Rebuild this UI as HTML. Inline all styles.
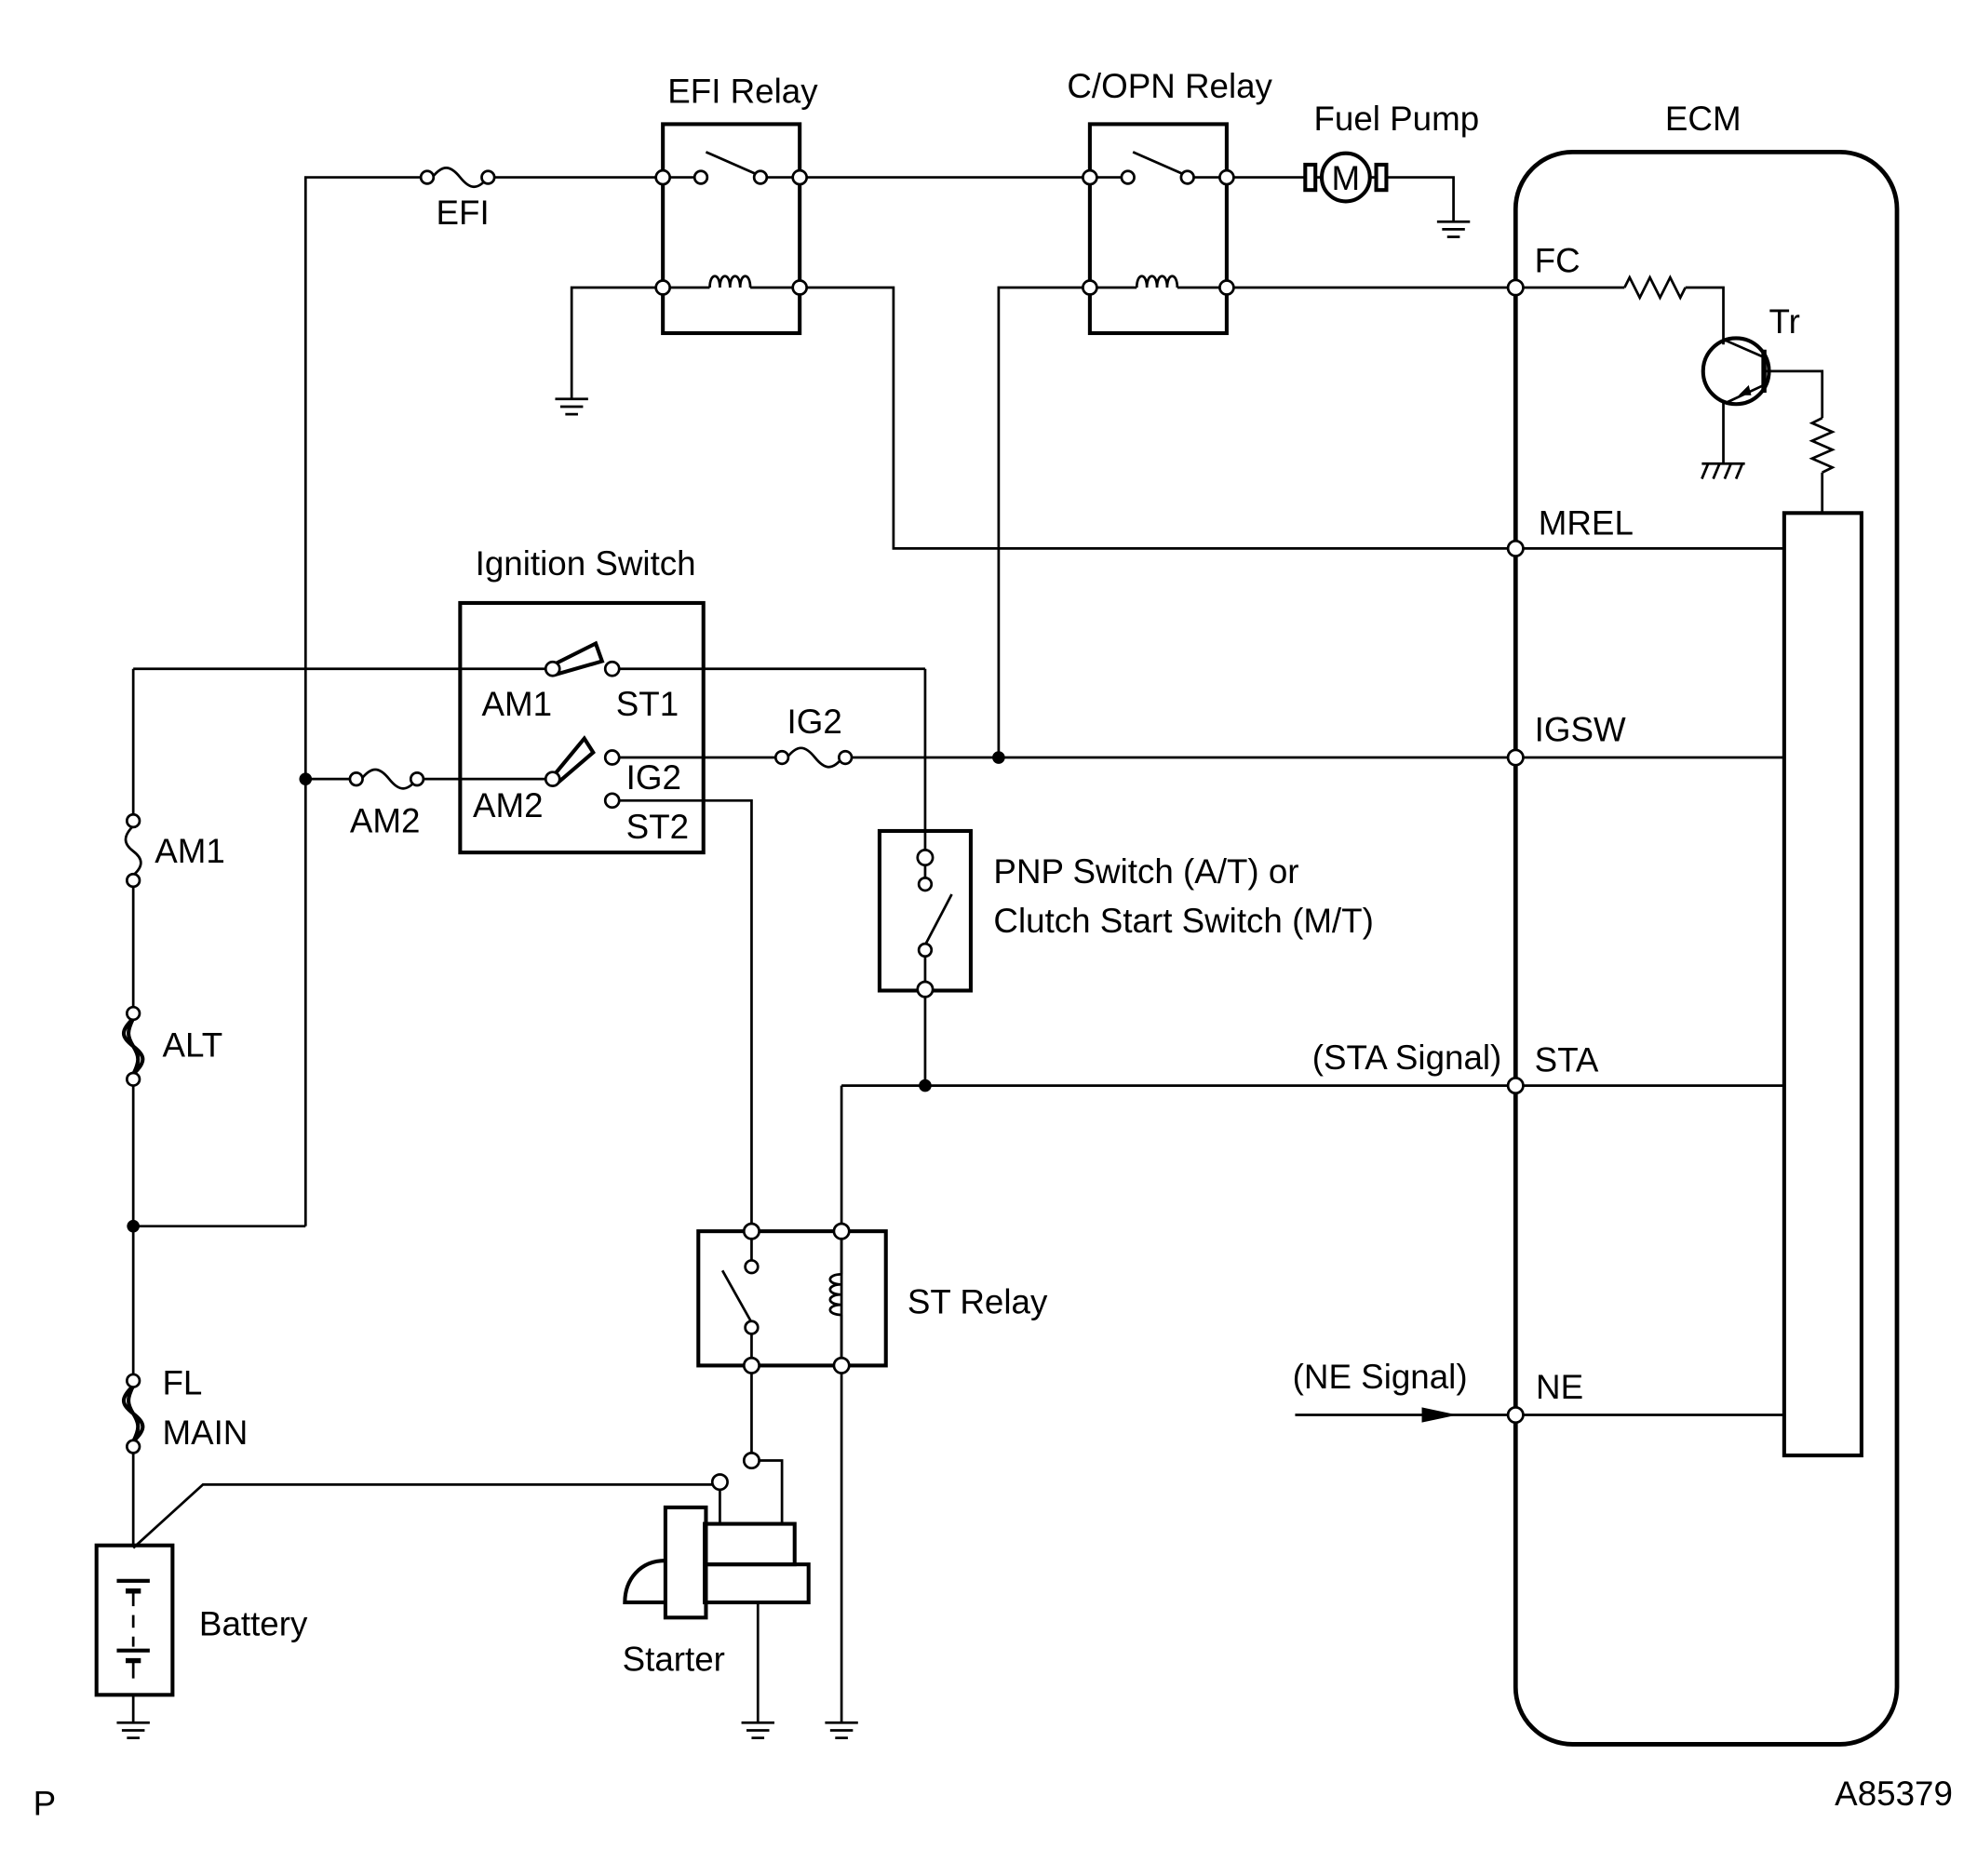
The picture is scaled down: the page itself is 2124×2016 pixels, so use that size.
<!DOCTYPE html>
<html><head><meta charset="utf-8"><style>
html,body{margin:0;padding:0;background:#fff}
svg{display:block}
text{font-family:"Liberation Sans",Arial,sans-serif;font-size:27px;fill:#000}
</style></head><body>
<svg width="2124" height="2016" viewBox="0 0 1560 1481" xmlns="http://www.w3.org/2000/svg">
<defs>
<g id="gnd"><line x1="-13" y1="0" x2="13" y2="0"/><line x1="-9" y1="6" x2="9" y2="6"/><line x1="-5" y1="12" x2="5" y2="12"/></g>
</defs>
<g fill="none" stroke="#000" stroke-width="2">
<polyline points="241,968 241,140 337,140"/>
<path d="M341,140 c8,-10 14,-10 22,0 c8,10 14,10 22,0"/>
<line x1="389" y1="140" x2="523" y2="140"/>
<line x1="105" y1="968" x2="241" y2="968"/>
<rect x="523" y="98" width="108" height="165" stroke-width="3"/>
<line x1="527" y1="140" x2="549" y2="140"/>
<line x1="557" y1="120" x2="598" y2="138"/>
<line x1="604" y1="140" x2="627" y2="140"/>
<line x1="527" y1="227" x2="560" y2="227"/>
<path d="M560,227 c0,-12 8,-12 8,0 c0,-12 8,-12 8,0 c0,-12 8,-12 8,0 c0,-12 8,-12 8,0"/>
<line x1="592" y1="227" x2="627" y2="227"/>
<line x1="635" y1="140" x2="856" y2="140"/>
<rect x="860" y="98" width="108" height="165" stroke-width="3"/>
<line x1="864" y1="140" x2="886" y2="140"/>
<line x1="894" y1="120" x2="935" y2="138"/>
<line x1="941" y1="140" x2="964" y2="140"/>
<line x1="864" y1="227" x2="897" y2="227"/>
<path d="M897,227 c0,-12 8,-12 8,0 c0,-12 8,-12 8,0 c0,-12 8,-12 8,0 c0,-12 8,-12 8,0"/>
<line x1="929" y1="227" x2="964" y2="227"/>
<line x1="972" y1="140" x2="1030" y2="140"/>
<rect x="1030" y="130" width="8" height="20" stroke-width="3"/>
<rect x="1086" y="130" width="8" height="20" stroke-width="3"/>
<line x1="1038" y1="140" x2="1044" y2="140"/>
<line x1="1080" y1="140" x2="1086" y2="140"/>
<circle cx="1062" cy="140" r="19" stroke-width="3"/>
<polyline points="1094,140 1147,140 1147,175"/>
<use href="#gnd" x="1147" y="175"/>
<polyline points="519,227 451,227 451,315"/>
<use href="#gnd" x="451" y="315"/>
<polyline points="635,227 705,227 705,433 1408,433"/>
<polyline points="856,227 788,227 788,598"/>
<line x1="972" y1="227" x2="1282" y2="227"/>
<path d="M1282,227 l4,-8 l8,16 l8,-16 l8,16 l8,-16 l8,16 l4,-8"/>
<polyline points="1330,227 1360,227 1360,272"/>
<circle cx="1370" cy="293" r="26" stroke-width="3"/>
<line x1="1392" y1="276" x2="1392" y2="310" stroke-width="4"/>
<line x1="1392" y1="282" x2="1360" y2="268"/>
<line x1="1392" y1="304" x2="1362" y2="318"/>
<polyline points="1392,293 1438,293 1438,330"/>
<path d="M1438,330 l-8,4 l16,7 l-16,7 l16,7 l-16,7 l16,7 l-8,4"/>
<line x1="1438" y1="373" x2="1438" y2="405"/>
<polyline points="1360,316 1360,366"/>
<line x1="1343" y1="366" x2="1377" y2="366"/>
<line x1="1348" y1="366" x2="1343" y2="378"/><line x1="1357" y1="366" x2="1352" y2="378"/><line x1="1366" y1="366" x2="1361" y2="378"/><line x1="1375" y1="366" x2="1370" y2="378"/>
<rect x="1196" y="120" width="301" height="1257" rx="45" stroke-width="3.5"/>
<rect x="1408" y="405" width="61" height="744" stroke-width="3"/>
<line x1="788" y1="598" x2="1408" y2="598"/>
<line x1="664" y1="857" x2="1408" y2="857"/>
<line x1="1022" y1="1117" x2="1408" y2="1117"/>
<rect x="363" y="476" width="192" height="197" stroke-width="3"/>
<line x1="105" y1="528" x2="432" y2="528"/>
<line x1="487" y1="528" x2="730" y2="528"/>
<line x1="730" y1="528" x2="730" y2="673"/>
<line x1="241" y1="615" x2="281" y2="615"/>
<path d="M285,615 c8,-10 14,-10 22,0 c8,10 14,10 22,0"/>
<line x1="333" y1="615" x2="432" y2="615"/>
<line x1="487" y1="598" x2="613" y2="598"/>
<path d="M621,598 c8,-10 14,-10 22,0 c8,10 14,10 22,0"/>
<line x1="671" y1="598" x2="788" y2="598"/>
<polyline points="487,632 593,632 593,968"/>
<line x1="105" y1="528" x2="105" y2="644"/>
<path d="M105,652 c-8,8 -8,14 0,20 c8,6 8,12 0,19"/>
<line x1="105" y1="699" x2="105" y2="796"/>
<path d="M105,804 c-10,10 -10,14 0,22 c10,8 10,12 0,22 M105,804 c-5,10 -5,14 0,22 c5,8 5,12 0,22" stroke-width="3"/>
<line x1="105" y1="856" x2="105" y2="1086"/>
<path d="M105,1094 c-10,10 -10,14 0,22 c10,8 10,12 0,22 M105,1094 c-5,10 -5,14 0,22 c5,8 5,12 0,22" stroke-width="3"/>
<line x1="105" y1="1146" x2="105" y2="1220"/>
<rect x="694" y="656" width="72" height="126" stroke-width="3"/>
<line x1="730" y1="681" x2="730" y2="694"/>
<line x1="730" y1="746" x2="751" y2="706"/>
<line x1="730" y1="754" x2="730" y2="777"/>
<line x1="730" y1="785" x2="730" y2="857"/>
<line x1="664" y1="857" x2="664" y2="1360"/>
<use href="#gnd" x="664" y="1360"/>
<rect x="551" y="972" width="148" height="106" stroke-width="3"/>
<line x1="593" y1="976" x2="593" y2="996"/>
<line x1="593" y1="1044" x2="570" y2="1003"/>
<line x1="593" y1="1052" x2="593" y2="1074"/>
<line x1="664" y1="976" x2="664" y2="1006"/>
<path d="M664,1006 c-12,0 -12,8 0,8 c-12,0 -12,8 0,8 c-12,0 -12,8 0,8 c-12,0 -12,8 0,8"/>
<line x1="664" y1="1038" x2="664" y2="1074"/>
<line x1="593" y1="1082" x2="593" y2="1149"/>
<polyline points="572,1170 568,1170 568,1203"/>
<polyline points="597,1153 617,1153 617,1203"/>
<rect x="556" y="1203" width="71" height="32" stroke-width="3"/>
<rect x="556" y="1235" width="82" height="30" stroke-width="3"/>
<rect x="525" y="1190" width="32" height="87" stroke-width="3"/>
<path d="M525,1232 c-20,0 -32,15 -32,33 l32,0" stroke-width="3"/>
<line x1="598" y1="1265" x2="598" y2="1360"/>
<use href="#gnd" x="598" y="1360"/>
<polyline points="105,1222 160,1172 564,1172"/>
<rect x="76" y="1220" width="60" height="118" stroke-width="3"/>
<line x1="92" y1="1248" x2="118" y2="1248" stroke-width="3"/>
<line x1="99" y1="1256" x2="111" y2="1256" stroke-width="4"/>
<line x1="105" y1="1256" x2="105" y2="1268"/><line x1="105" y1="1275" x2="105" y2="1285"/><line x1="105" y1="1292" x2="105" y2="1300"/>
<line x1="92" y1="1303" x2="118" y2="1303" stroke-width="3"/>
<line x1="99" y1="1311" x2="111" y2="1311" stroke-width="4"/>
<line x1="105" y1="1311" x2="105" y2="1325"/>
<line x1="105" y1="1338" x2="105" y2="1360"/>
<use href="#gnd" x="105" y="1360"/>
</g>
<g fill="#fff" stroke="#000" stroke-width="3">
<polygon points="438,524 470,508 475,522 440,532"/>
<polygon points="437,612 461,583 468,594 440,618"/>
</g>
<g fill="#fff" stroke="#000" stroke-width="2">
<circle cx="523" cy="140" r="5.5"/><circle cx="631" cy="140" r="5.5"/><circle cx="523" cy="227" r="5.5"/><circle cx="631" cy="227" r="5.5"/>
<circle cx="553" cy="140" r="5"/><circle cx="600" cy="140" r="5"/>
<circle cx="860" cy="140" r="5.5"/><circle cx="968" cy="140" r="5.5"/><circle cx="860" cy="227" r="5.5"/><circle cx="968" cy="227" r="5.5"/>
<circle cx="890" cy="140" r="5"/><circle cx="937" cy="140" r="5"/>
<circle cx="337" cy="140" r="5"/><circle cx="385" cy="140" r="5"/>
<circle cx="281" cy="615" r="5"/><circle cx="329" cy="615" r="5"/>
<circle cx="617" cy="598" r="5"/><circle cx="667" cy="598" r="5"/>
<circle cx="436" cy="528" r="5.5"/><circle cx="483" cy="528" r="5.5"/>
<circle cx="436" cy="615" r="5.5"/><circle cx="483" cy="598" r="5.5"/><circle cx="483" cy="632" r="5.5"/>
<circle cx="105" cy="648" r="5"/><circle cx="105" cy="695" r="5"/>
<circle cx="105" cy="800" r="5"/><circle cx="105" cy="852" r="5"/>
<circle cx="105" cy="1090" r="5"/><circle cx="105" cy="1142" r="5"/>
<circle cx="1196" cy="227" r="6"/><circle cx="1196" cy="433" r="6"/><circle cx="1196" cy="598" r="6"/><circle cx="1196" cy="857" r="6"/><circle cx="1196" cy="1117" r="6"/>
<circle cx="730" cy="677" r="6"/><circle cx="730" cy="698" r="5"/><circle cx="730" cy="750" r="5"/><circle cx="730" cy="781" r="6"/>
<circle cx="593" cy="972" r="6"/><circle cx="664" cy="972" r="6"/><circle cx="593" cy="1078" r="6"/><circle cx="664" cy="1078" r="6"/>
<circle cx="593" cy="1000" r="5"/><circle cx="593" cy="1048" r="5"/>
<circle cx="593" cy="1153" r="6"/><circle cx="568" cy="1170" r="6"/>
</g>
<g fill="#000">
<circle cx="241" cy="615" r="5"/><circle cx="105" cy="968" r="5"/><circle cx="788" cy="598" r="5"/><circle cx="730" cy="857" r="5"/>
<polygon points="1122,1111 1150,1117 1122,1123"/>
<polygon points="1382,312 1372,312 1380,304"/>
</g>
<text x="1062" y="150" font-size="27" text-anchor="middle">M</text>
<text x="586" y="81" text-anchor="middle">EFI Relay</text>
<text x="923" y="77" text-anchor="middle">C/OPN Relay</text>
<text x="1102" y="103" text-anchor="middle">Fuel Pump</text>
<text x="1344" y="103" text-anchor="middle">ECM</text>
<text x="365" y="177" text-anchor="middle">EFI</text>
<text x="1211" y="215">FC</text>
<text x="1396" y="263">Tr</text>
<text x="1214" y="422">MREL</text>
<text x="462" y="454" text-anchor="middle">Ignition Switch</text>
<text x="380" y="565">AM1</text>
<text x="486" y="565">ST1</text>
<text x="621" y="579">IG2</text>
<text x="1211" y="585">IGSW</text>
<text x="373" y="645">AM2</text>
<text x="494" y="623">IG2</text>
<text x="494" y="662">ST2</text>
<text x="276" y="657">AM2</text>
<text x="122" y="681">AM1</text>
<text x="784" y="697">PNP Switch (A/T) or</text>
<text x="784" y="736">Clutch Start Switch (M/T)</text>
<text x="128" y="834">ALT</text>
<text x="1185" y="844" text-anchor="end">(STA Signal)</text>
<text x="1211" y="846">STA</text>
<text x="716" y="1037">ST Relay</text>
<text x="1020" y="1096">(NE Signal)</text>
<text x="1212" y="1104">NE</text>
<text x="128" y="1101">FL</text>
<text x="128" y="1140">MAIN</text>
<text x="157" y="1291">Battery</text>
<text x="491" y="1319">Starter</text>
<text x="26" y="1433" font-size="20">P</text>
<text x="1541" y="1425" font-size="16" text-anchor="end">A85379</text>
</svg>
</body></html>
